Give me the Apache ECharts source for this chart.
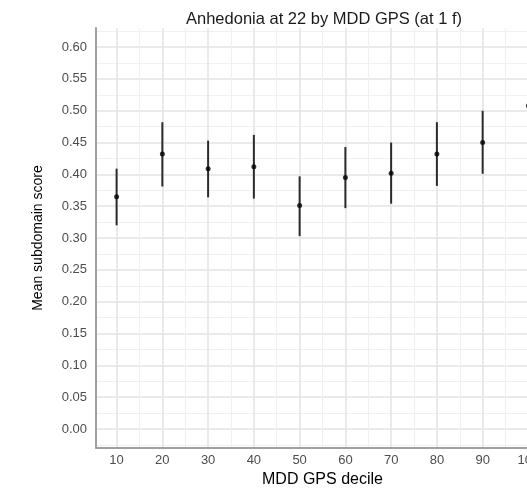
<!DOCTYPE html>
<html>
<head>
<meta charset="utf-8">
<script src="https://cdn.jsdelivr.net/npm/echarts@6/dist/echarts.min.js"></script>
<style>
  html, body { margin: 0; padding: 0; background: #ffffff; overflow: hidden; width: 527px; height: 493px; }
  /* the panel runs past the right edge of the window, so the last decile is cut off */
  #chart { width: 580px; height: 493px; }
</style>
</head>
<body>
<div id="chart"></div>
<script>
// MDD GPS decile groups and their mean anhedonia subdomain score with 95% CI
const deciles = [10, 20, 30, 40, 50, 60, 70, 80, 90, 100];
const meanScore = [0.365, 0.432, 0.409, 0.412, 0.351, 0.395, 0.402, 0.432, 0.450, 0.508];
const ciLower = [0.320, 0.381, 0.364, 0.362, 0.303, 0.347, 0.354, 0.382, 0.401, 0.458];
const ciUpper = [0.409, 0.482, 0.453, 0.462, 0.397, 0.443, 0.450, 0.482, 0.500, 0.558];

// Axis breaks
const xMajorTicks = [10, 20, 30, 40, 50, 60, 70, 80, 90, 100];
const xMinorTicks = [15, 25, 35, 45, 55, 65, 75, 85, 95];
const yMajorTicks = [0, 0.05, 0.10, 0.15, 0.20, 0.25, 0.30, 0.35, 0.40, 0.45, 0.50, 0.55, 0.60];
const yMinorTicks = [-0.025, 0.025, 0.075, 0.125, 0.175, 0.225, 0.275, 0.325, 0.375, 0.425, 0.475, 0.525, 0.575, 0.625];

const X_MIN = 5.5, X_MAX = 104.5;
const Y_MIN = -0.03, Y_MAX = 0.63;

const FONT = "'Liberation Sans', Arial, Helvetica, sans-serif";
const majorGrid = { show: true, lineStyle: { color: '#e3e3e3', width: 1.5 } };
const minorGrid = { show: true, lineStyle: { color: '#f0f0f0', width: 1 } };

const chart = echarts.init(document.getElementById('chart'), null, { renderer: 'canvas' });

const errorBars = deciles.map((d, i) => [d, ciLower[i], ciUpper[i]]);
const points = deciles.map((d, i) => [d, meanScore[i]]);

chart.setOption({
  animation: false,
  backgroundColor: '#ffffff',
  title: {
    text: 'Anhedonia at 22 by MDD GPS (at 1 f)',
    left: 181,
    top: 6,
    textStyle: { fontFamily: FONT, fontSize: 16.5, fontWeight: 'normal', color: '#1a1a1a' }
  },
  grid: { left: 96, top: 28, width: 453, height: 427, containLabel: false },
  xAxis: [
    {
      type: 'value', min: X_MIN, max: X_MAX,
      name: 'MDD GPS decile', nameLocation: 'middle', nameGap: 17,
      nameTextStyle: { fontFamily: FONT, fontSize: 16, color: '#000000' },
      axisLine: { show: true, onZero: false, lineStyle: { color: '#a0a0a0', width: 2 } },
      axisTick: { show: false, customValues: xMajorTicks },
      axisLabel: { customValues: xMajorTicks, margin: 6, fontFamily: FONT, fontSize: 13, color: '#4d4d4d' },
      splitLine: majorGrid
    },
    {
      type: 'value', min: X_MIN, max: X_MAX, position: 'bottom',
      axisLine: { show: false },
      axisTick: { show: false, customValues: xMinorTicks },
      axisLabel: { show: false, customValues: xMinorTicks },
      splitLine: minorGrid
    }
  ],
  yAxis: [
    {
      type: 'value', min: Y_MIN, max: Y_MAX,
      name: 'Mean subdomain score', nameLocation: 'middle', nameGap: 51,
      nameTextStyle: { fontFamily: FONT, fontSize: 14, color: '#000000' },
      axisLine: { show: true, onZero: false, lineStyle: { color: '#a0a0a0', width: 2 } },
      axisTick: { show: false, customValues: yMajorTicks },
      axisLabel: {
        customValues: yMajorTicks, margin: 9, fontFamily: FONT, fontSize: 13, color: '#4d4d4d',
        formatter: v => v.toFixed(2)
      },
      splitLine: majorGrid
    },
    {
      type: 'value', min: Y_MIN, max: Y_MAX, position: 'left',
      axisLine: { show: false },
      axisTick: { show: false, customValues: yMinorTicks },
      axisLabel: { show: false, customValues: yMinorTicks },
      splitLine: minorGrid
    }
  ],
  series: [
    {
      type: 'custom',
      name: 'CI',
      xAxisIndex: 0, yAxisIndex: 0,
      data: errorBars,
      renderItem: (params, api) => {
        const lo = api.coord([api.value(0), api.value(1)]);
        const hi = api.coord([api.value(0), api.value(2)]);
        return {
          type: 'line',
          shape: { x1: lo[0], y1: lo[1], x2: hi[0], y2: hi[1] },
          style: { stroke: '#2b2b2b', lineWidth: 2 }
        };
      },
      z: 3
    },
    {
      type: 'scatter',
      name: 'Mean',
      xAxisIndex: 0, yAxisIndex: 0,
      data: points,
      symbol: 'circle',
      symbolSize: 5,
      itemStyle: { color: '#000000' },
      z: 4
    }
  ]
});
</script>
</body>
</html>
